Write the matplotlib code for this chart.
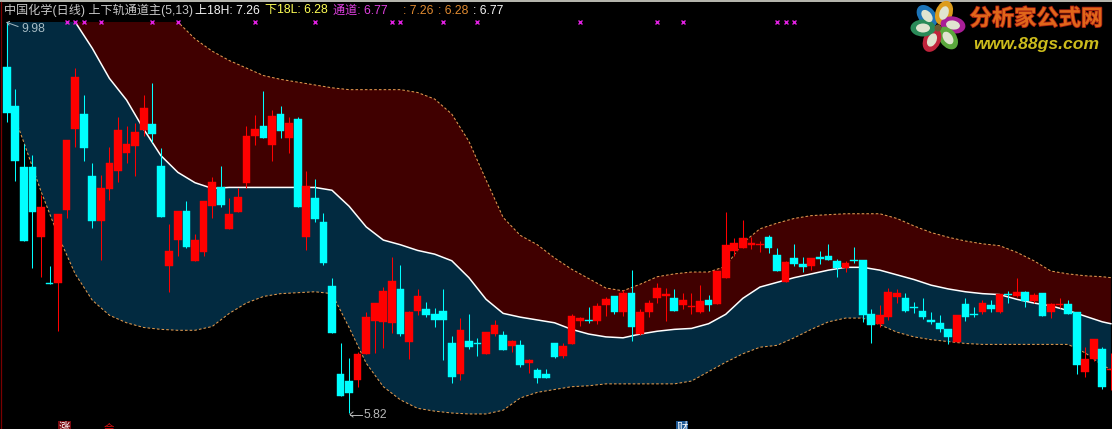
import matplotlib
matplotlib.use("Agg")
import matplotlib.pyplot as plt
import matplotlib.patheffects as pe
from matplotlib.patches import Ellipse, Rectangle

W, H = 1112, 429

# daily prices
opens = [9.50, 9.09, 8.44, 8.44, 7.69, 7.20, 7.20, 7.98, 8.84, 9.00,
         8.34, 7.86, 8.20, 8.40, 8.59, 8.66, 8.83, 8.89, 8.45, 7.38,
         7.66, 7.97, 7.44, 7.53, 8.02, 8.22, 7.78, 7.96, 8.27, 8.77,
         8.87, 8.67, 9.00, 8.75, 8.95, 7.69, 8.11, 7.85, 7.17, 6.24,
         6.16, 6.17, 6.45, 6.80, 6.79, 6.78, 7.14, 6.58, 6.91, 6.93,
         6.87, 6.91, 6.56, 6.23, 6.59, 6.56, 6.45, 6.66, 6.65, 6.53,
         6.54, 6.35, 6.28, 6.24, 6.56, 6.43, 6.55, 6.80, 6.81, 6.80,
         6.97, 7.06, 6.90, 7.10, 6.66, 6.90, 7.04, 7.06, 7.04, 6.97,
         6.95, 6.90, 7.02, 6.98, 7.26, 7.54, 7.58, 7.61, 7.61, 7.69,
         7.50, 7.21, 7.47, 7.41, 7.38, 7.48, 7.49, 7.44, 7.36, 7.45,
         7.45, 6.87, 6.77, 6.84, 7.05, 7.04, 6.95, 6.91, 6.81, 6.78,
         6.71, 6.58, 6.98, 6.87, 6.90, 6.97, 6.89, 7.09, 7.06, 7.11,
         7.01, 7.10, 6.90, 6.97, 6.98, 6.90, 6.26, 6.39, 6.50, 6.28]
highs = [9.98, 9.27, 8.68, 8.56, 8.14, 7.38, 7.94, 8.72, 9.49, 9.20,
         8.48, 8.35, 8.65, 8.97, 8.87, 8.91, 9.20, 9.33, 8.64, 7.83,
         7.97, 8.08, 7.72, 8.08, 8.33, 8.45, 8.11, 8.21, 8.87, 8.99,
         9.25, 9.04, 9.09, 8.97, 8.97, 8.40, 8.31, 7.95, 7.26, 6.57,
         6.41, 6.47, 6.89, 6.99, 7.16, 7.48, 7.39, 6.91, 7.14, 7.00,
         6.94, 7.14, 6.64, 6.83, 6.87, 6.62, 6.68, 6.81, 6.69, 6.60,
         6.60, 6.39, 6.30, 6.29, 6.56, 6.56, 6.87, 6.84, 6.95, 6.99,
         7.05, 7.06, 7.13, 7.34, 6.93, 7.02, 7.20, 7.15, 7.14, 7.10,
         7.10, 7.18, 7.08, 7.33, 7.96, 7.68, 7.87, 7.69, 7.65, 7.71,
         7.58, 7.44, 7.62, 7.48, 7.47, 7.54, 7.62, 7.46, 7.44, 7.59,
         7.45, 6.93, 6.97, 7.15, 7.14, 7.10, 7.00, 7.04, 6.89, 6.86,
         6.71, 6.86, 7.04, 6.95, 7.02, 7.02, 7.09, 7.12, 7.26, 7.12,
         7.10, 7.10, 6.99, 7.04, 7.02, 6.90, 6.52, 6.61, 6.52, 6.46]
lows = [8.92, 8.29, 7.65, 7.36, 7.27, 7.19, 6.69, 7.89, 8.65, 8.50,
        7.79, 7.45, 8.09, 8.28, 8.48, 8.34, 8.77, 8.70, 7.91, 7.11,
        7.49, 7.58, 7.44, 7.49, 7.89, 8.01, 7.78, 7.96, 8.21, 8.67,
        8.75, 8.50, 8.75, 8.59, 8.01, 7.55, 7.85, 7.40, 6.67, 6.00,
        5.82, 6.10, 6.45, 6.46, 6.51, 6.67, 6.64, 6.39, 6.86, 6.84,
        6.73, 6.38, 6.14, 6.17, 6.50, 6.43, 6.45, 6.64, 6.49, 6.47,
        6.31, 6.25, 6.14, 6.19, 6.41, 6.41, 6.55, 6.75, 6.78, 6.77,
        6.85, 6.87, 6.85, 6.59, 6.65, 6.84, 6.99, 6.80, 6.91, 6.93,
        6.87, 6.88, 6.91, 6.98, 7.26, 7.49, 7.58, 7.57, 7.53, 7.52,
        7.33, 7.21, 7.38, 7.32, 7.34, 7.41, 7.45, 7.27, 7.32, 7.42,
        6.79, 6.56, 6.73, 6.81, 6.99, 6.89, 6.88, 6.82, 6.77, 6.68,
        6.55, 6.58, 6.80, 6.84, 6.87, 6.89, 6.88, 6.99, 7.05, 6.95,
        6.99, 6.85, 6.83, 6.94, 6.87, 6.24, 6.20, 6.37, 6.08, 6.07]
closes = [9.01, 8.50, 7.65, 7.96, 8.01, 7.19, 7.94, 8.72, 9.39, 8.64,
          7.86, 8.21, 8.48, 8.83, 8.68, 8.81, 9.06, 8.79, 7.91, 7.54,
          7.97, 7.59, 7.66, 8.08, 8.28, 8.03, 7.94, 8.12, 8.77, 8.84,
          8.75, 8.98, 8.82, 8.91, 8.01, 8.23, 7.88, 7.42, 6.67, 6.00,
          6.03, 6.45, 6.84, 6.99, 7.12, 7.22, 6.66, 6.89, 7.06, 6.86,
          6.81, 6.81, 6.20, 6.70, 6.52, 6.55, 6.68, 6.76, 6.49, 6.59,
          6.33, 6.38, 6.19, 6.19, 6.42, 6.53, 6.85, 6.83, 6.80, 6.96,
          7.03, 6.90, 7.10, 6.73, 6.89, 6.99, 7.15, 7.09, 6.91, 7.02,
          6.96, 7.01, 6.97, 7.33, 7.61, 7.63, 7.68, 7.63, 7.62, 7.58,
          7.33, 7.43, 7.41, 7.37, 7.47, 7.46, 7.45, 7.36, 7.42, 7.44,
          6.86, 6.76, 6.86, 7.11, 7.10, 6.91, 6.94, 6.84, 6.79, 6.71,
          6.63, 6.86, 6.84, 6.86, 6.99, 6.93, 7.09, 7.08, 7.11, 7.01,
          7.08, 6.85, 6.98, 6.98, 6.87, 6.33, 6.40, 6.61, 6.10, 6.29]

# channel lines, read at every second day plus the last one
band_days = list(range(0, 129, 2)) + [129]
upper = [12.0, 12.0, 11.9, 11.8, 11.6, 11.4, 11.2, 11.0, 10.43, 10.2,
         9.98, 9.80, 9.67, 9.57, 9.49, 9.41, 9.37, 9.34, 9.31, 9.28,
         9.26, 9.26, 9.26, 9.26, 9.23, 9.16, 9.00, 8.71, 8.30, 7.90,
         7.71, 7.61, 7.47, 7.35, 7.25, 7.15, 7.12, 7.19, 7.27, 7.30,
         7.32, 7.32, 7.38, 7.63, 7.78, 7.84, 7.89, 7.92, 7.93, 7.94,
         7.94, 7.94, 7.89, 7.81, 7.74, 7.69, 7.65, 7.62, 7.60, 7.53,
         7.44, 7.33, 7.30, 7.28, 7.27, 7.26]
middle = [11.1, 10.85, 10.6, 10.32, 9.98, 9.70, 9.38, 9.15, 8.84, 8.56,
          8.38, 8.27, 8.21, 8.22, 8.22, 8.22, 8.22, 8.22, 8.22, 8.19,
          8.02, 7.80, 7.66, 7.61, 7.55, 7.51, 7.44, 7.26, 7.03, 6.88,
          6.84, 6.81, 6.78, 6.71, 6.66, 6.63, 6.62, 6.66, 6.69, 6.71,
          6.72, 6.77, 6.87, 7.04, 7.16, 7.21, 7.26, 7.30, 7.34, 7.37,
          7.37, 7.34, 7.29, 7.24, 7.18, 7.14, 7.11, 7.09, 7.08, 7.03,
          6.99, 6.96, 6.91, 6.85, 6.79, 6.77]
lower = [9.20, 8.70, 8.18, 7.71, 7.30, 7.02, 6.86, 6.78, 6.73, 6.71,
         6.70, 6.70, 6.74, 6.88, 6.99, 7.06, 7.09, 7.10, 7.11, 7.09,
         6.73, 6.35, 6.10, 5.96, 5.87, 5.84, 5.82, 5.81, 5.81, 5.85,
         5.98, 6.04, 6.07, 6.10, 6.11, 6.13, 6.13, 6.13, 6.13, 6.13,
         6.16, 6.26, 6.36, 6.45, 6.52, 6.54, 6.62, 6.71, 6.79, 6.83,
         6.83, 6.76, 6.68, 6.63, 6.60, 6.58, 6.56, 6.55, 6.55, 6.55,
         6.55, 6.55, 6.55, 6.46, 6.33, 6.28]

# days flagged with a cross in the top row
flag_days = [7, 8, 9, 11, 17, 20, 29, 36, 45, 46, 51, 55, 67, 76, 79, 90, 91, 92]

plt.rcParams['font.family'] = ['Liberation Sans', 'Noto Sans CJK SC']

fig = plt.figure(figsize=(W / 100, H / 100), dpi=100, facecolor='black')
ax = fig.add_axes([0, 0, 1, 1 - 21.7 / H], facecolor='black')
ax.set_xlim(-0.783, 129.13)
ax.set_ylim(5.65, 9.983)
ax.axis('off')

ax.fill_between(band_days, middle, upper, color='#400000', lw=0, zorder=1)
ax.fill_between(band_days, lower, middle, color='#022a40', lw=0, zorder=1)
ax.plot(band_days, upper, color='#e09a50', lw=0.75, ls=(0, (2.5, 2)), zorder=2)
ax.plot(band_days, lower, color='#e09a50', lw=0.75, ls=(0, (2.5, 2)), zorder=2)
ax.plot(band_days, middle, color='white', lw=1.1, zorder=2)

days = list(range(len(opens)))
colors = ['#ff0000' if c > o else '#00ffff' for o, c in zip(opens, closes)]
ax.vlines(days, lows, highs, colors=colors, lw=0.75, zorder=3)
ax.bar(days, [c - o for o, c in zip(opens, closes)], bottom=opens, width=0.9,
       color=colors, edgecolor=colors, lw=0.3, zorder=4)

ax.plot(flag_days, [9.975] * len(flag_days), ls='', marker='x', ms=3, mew=1,
        color='#e020e0', clip_on=False, zorder=5)
ax.plot(flag_days, [9.975] * len(flag_days), ls='', marker='s', ms=1.6, mew=0,
        color='#e020e0', clip_on=False, zorder=5)

# pixel overlay for the header, the labels and the logo
ov = fig.add_axes([0, 0, 1, 1], facecolor='none')
ov.set_xlim(0, W)
ov.set_ylim(H, 0)
ov.axis('off')

ov.add_patch(Rectangle((0, 0), W, 1.6, color='#b4b4ac', lw=0))
ov.plot([1.2, 1.2], [2, H], color='#7a0000', lw=0.9)

header = [(3.5, '中国化学(日线) 上下轨通道主(5,13)', '#c8c8c8'),
          (195, '上18H: 7.26', '#f4f4f4'),
          (265, '下18L: 6.28', '#ffff55'),
          (333, '通道: 6.77', '#e040e0'),
          (403, ': 7.26', '#e08a30'),
          (438, ': 6.28', '#e08a30'),
          (473, ': 6.77', '#f4f4f4')]
for x, s, c in header:
    ov.text(x, 10.5, s, color=c, fontsize=8.7, va='center', ha='left')

ov.plot([7, 18], [22.5, 26.5], color='#a8bcc4', lw=0.7)
ov.plot([9.5, 7, 9], [21.5, 22.5, 25], color='#a8bcc4', lw=0.7)
ov.text(21, 29.5, '9.98', color='#a8bcc4', fontsize=8.7, va='center')
ov.plot([350, 362], [414.5, 414.5], color='#b8b8b8', lw=0.7)
ov.plot([353, 350, 353], [412, 414.5, 417], color='#b8b8b8', lw=0.7)
ov.text(363, 415, '5.82', color='#b8b8b8', fontsize=8.7, va='center')

# event tags sit on the bottom edge and get cut off by it
ov.add_patch(Rectangle((58, 421), 13, 9, color='#7a0a10', lw=0))
ov.text(64.5, 427.5, '涨', color='white', fontsize=8.2, ha='center', va='center')
ov.text(109, 428, '会', color='#e01010', fontsize=7.5, ha='center', va='center')
ov.add_patch(Rectangle((676, 421), 12, 9, color='#1f5a96', lw=0))
ov.text(682, 427.5, '财', color='white', fontsize=8.2, ha='center', va='center')

# logo
petals = [(927, 16, 50, '#1c74b8'), (944, 13, -70, '#dc9c1c'), (953, 25, 10, '#a81e96'),
          (948, 38, 55, '#5aa83c'), (932, 40, -65, '#c0243c'), (923, 28, 0, '#2a8a58')]
for x, y, ang, c in petals:
    ov.add_patch(Ellipse((x, y), 25, 17, angle=ang, color=c, lw=0, zorder=6))
for x, y, ang, c in petals:
    ov.add_patch(Ellipse((x, y), 14, 9, angle=ang, color='#e0e4d0', lw=0, zorder=7))
ov.add_patch(Ellipse((938, 28), 7, 7, color='#6a5a30', lw=0, zorder=8))

ov.text(1036.5, 19.5, '分析家公式网', color='#e0661a', fontsize=16, fontweight='bold',
        ha='center', va='center', zorder=7,
        path_effects=[pe.withStroke(linewidth=1.2, foreground='#a01c10')])
ov.text(1036, 44, 'www.88gs.com', color='#ccbc1c', fontsize=12.6, fontweight='bold',
        fontstyle='italic', ha='center', va='center', zorder=7)

fig.savefig('out.png', dpi=100, facecolor='black')
